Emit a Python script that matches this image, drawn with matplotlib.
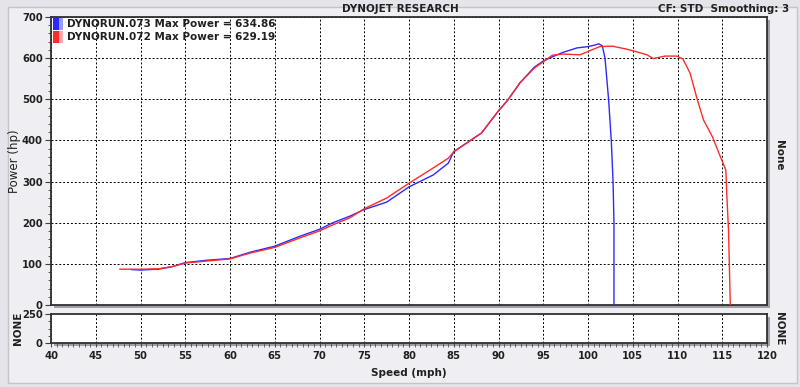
import matplotlib
matplotlib.use("Agg")
import matplotlib.pyplot as plt
from matplotlib.patches import Rectangle
from matplotlib.ticker import MultipleLocator
from matplotlib.transforms import IdentityTransform

# values
run073_mph = [49.0, 50.0, 52.0, 53.5, 55.0, 57.5, 60.0, 62.2, 65.0, 67.8, 70.0, 71.5,
              73.4, 75.0, 77.5, 80.0, 82.7, 84.4, 85.0, 86.8, 88.1, 90.0, 91.0, 92.4,
              94.0, 95.0, 96.0, 97.2, 98.8, 100.0, 100.8, 101.2, 101.6, 101.9, 102.3,
              102.6, 102.8, 102.9, 102.9]
run073_hp = [86, 85, 87, 93, 103, 109, 113, 128, 143, 167, 184, 200,
             216, 232, 250, 287, 316, 345, 373, 399, 418, 472, 497, 540,
             578, 593, 603, 614, 625, 628, 632, 634.86, 630, 600, 500,
             400, 300, 200, 0]

run072_mph = [47.7, 50.0, 52.0, 53.5, 55.0, 57.5, 60.0, 62.2, 65.0, 67.8, 70.0, 71.5,
              73.4, 75.0, 77.5, 80.0, 82.7, 84.4, 85.0, 86.8, 88.1, 90.0, 91.0, 92.4,
              94.0, 95.0, 96.0, 97.2, 99.1, 100.2, 101.3, 102.7, 104.3, 105.5, 106.6,
              107.3, 108.6, 109.9, 110.6, 111.4, 112.2, 112.9, 113.9, 114.8, 115.4,
              115.5, 115.7, 115.9]
run072_hp = [87, 87, 88, 93, 102, 107, 112, 126, 140, 163, 180, 195,
             212, 234, 260, 296, 333, 357, 372, 399, 418, 472, 497, 540,
             576, 591, 607, 610, 608, 618, 628, 629.19, 622, 615, 608,
             599, 605, 605, 598, 564, 500, 450, 409, 360, 328,
             272, 182, 0]

legend_labels = ["DYNORUN.073 Max Power = 634.86", "DYNORUN.072 Max Power = 629.19"]
line_colors = ["#2a2aff", "#ff2a2a"]

W, H = 800, 387
fig = plt.figure(figsize=(W / 100, H / 100), dpi=100, facecolor="#e4e4ea")

# background panel
fig.patches.append(Rectangle((8, 4), 789, 376, transform=IdentityTransform(),
                             facecolor="#efeff3", edgecolor="#c4c4ca", lw=1, zorder=-2))


def px_axes(x0, x1, ytop, ybot):
    # pixel box (top-origin y) -> figure fraction axes, plus drop shadow
    fig.patches.append(Rectangle((x0 + 3, H - ybot - 3), x1 - x0, ybot - ytop,
                                 transform=IdentityTransform(), facecolor="#a0a0a6",
                                 edgecolor="none", zorder=-1))
    ax = fig.add_axes([x0 / W, 1 - ybot / H, (x1 - x0) / W, (ybot - ytop) / H])
    ax.set_zorder(1)
    ax.set_facecolor("white")
    for s in ax.spines.values():
        s.set_color("#303030")
        s.set_linewidth(1.3)
    return ax


tick_font = dict(fontsize=7.2, fontweight="bold", color="#202020")

ax = px_axes(51, 767, 17, 305)
ax.plot(run073_mph, run073_hp, color=line_colors[0], lw=1.0, zorder=3)
ax.plot(run072_mph, run072_hp, color=line_colors[1], lw=1.0, zorder=3)
ax.set_xlim(40, 120)
ax.set_ylim(0, 700)
ax.xaxis.set_major_locator(MultipleLocator(5))
ax.yaxis.set_major_locator(MultipleLocator(100))
ax.yaxis.set_minor_locator(MultipleLocator(20))
ax.grid(True, which="major", color="black", ls=(0, (2, 2)), lw=0.7)
ax.tick_params(axis="x", bottom=False, labelbottom=False)
ax.tick_params(axis="y", which="major", length=4, color="#404040", pad=2)
ax.tick_params(axis="y", which="minor", length=2.5, color="#404040")
for lbl in ax.get_yticklabels():
    lbl.set(**tick_font)
ax.set_ylabel("Power (hp)", fontsize=8.5, color="#202020")
ax.yaxis.set_label_coords(-0.042, 0.5)

# legend boxes
for i, (lab, col) in enumerate(zip(legend_labels, line_colors)):
    y0 = 1 - (13 * i + 13) / 288
    ax.add_patch(Rectangle((0.003, y0), 0.0075, 12 / 288, transform=ax.transAxes,
                           facecolor=col, edgecolor="none", zorder=5, clip_on=False))
    ax.add_patch(Rectangle((0.0105, y0), 0.0065, 12 / 288, transform=ax.transAxes,
                           facecolor="#ffaaaa" if i else "#9a9aff", edgecolor="none",
                           zorder=5, clip_on=False))
    ax.text(0.022, y0 + 6 / 288, lab, transform=ax.transAxes, va="center", ha="left",
            fontsize=7.5, fontweight="bold", color="#202020", zorder=6)

ax.text(1.017, 0.52, "None", transform=ax.transAxes, rotation=270, va="center",
        ha="center", fontsize=7.5, fontweight="bold", color="#202020")

# lower empty panel
ax2 = px_axes(51, 767, 314, 343)
ax2.set_xlim(40, 120)
ax2.set_ylim(0, 250)
ax2.xaxis.set_major_locator(MultipleLocator(5))
ax2.xaxis.set_minor_locator(MultipleLocator(0.625))
ax2.yaxis.set_major_locator(MultipleLocator(250))
ax2.yaxis.set_minor_locator(MultipleLocator(62.5))
ax2.grid(True, axis="x", which="major", color="black", ls=(0, (2, 2)), lw=0.7)
ax2.tick_params(axis="x", which="major", length=3, color="#505050", pad=3)
ax2.tick_params(axis="x", which="minor", length=3, color="#505050")
ax2.tick_params(axis="y", which="major", length=4, color="#404040", pad=2)
ax2.tick_params(axis="y", which="minor", length=2.5, color="#404040")
for lbl in ax2.get_xticklabels() + ax2.get_yticklabels():
    lbl.set(**tick_font)
ax2.set_xlabel("Speed (mph)", fontsize=7.5, fontweight="bold", color="#202020", labelpad=5)
ax2.text(-0.046, 0.5, "NONE", transform=ax2.transAxes, rotation=90, va="center",
         ha="center", fontsize=7.5, fontweight="bold", color="#202020")
ax2.text(1.017, 0.5, "NONE", transform=ax2.transAxes, rotation=270, va="center",
         ha="center", fontsize=7.5, fontweight="bold", color="#202020")

fig.text(0.5, 1 - 9 / H, "DYNOJET RESEARCH", ha="center", va="center",
         fontsize=7.5, fontweight="bold", color="#202020")
fig.text(789 / W, 1 - 9 / H, "CF: STD  Smoothing: 3", ha="right", va="center",
         fontsize=7.5, fontweight="bold", color="#202020")

fig.savefig("out.png", dpi=100, facecolor=fig.get_facecolor())
